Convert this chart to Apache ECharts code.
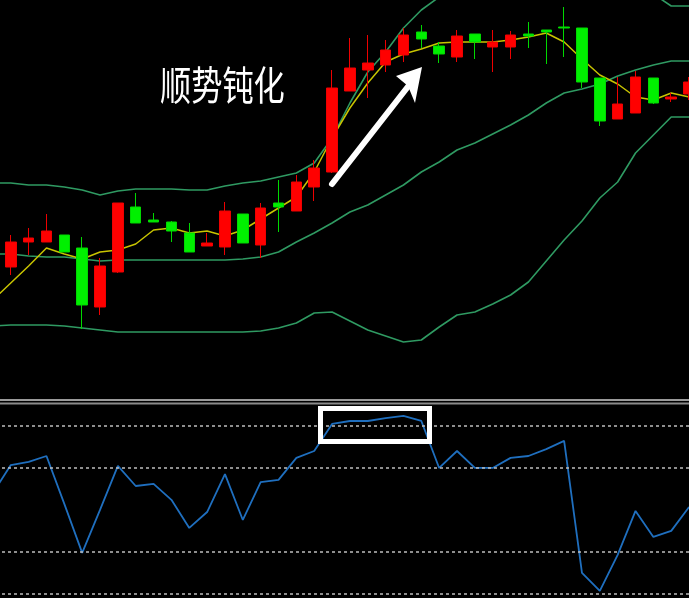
<!DOCTYPE html>
<html>
<head>
<meta charset="utf-8">
<script src="https://cdn.jsdelivr.net/npm/echarts@6/dist/echarts.min.js"></script>
<style>
html,body{margin:0;padding:0;background:#000;overflow:hidden;width:689px;height:598px;}
#main{width:714px;height:598px;margin-left:-16px;}
</style>
</head>
<body>
<div id="main"></div>
<script>
const categories = ['1','2','3','4','5','6','7','8','9','10','11','12','13','14','15','16','17','18','19','20',
  '21','22','23','24','25','26','27','28','29','30','31','32','33','34','35','36','37','38','39','40'];
const opens  = [74,133,158,158,165,152,93,128,193,180,178,167,154,153,186,155,197,189,213,228,309,330,335,345,368,354,343,366,353,353,366,370,373,372,322,281,287,322,301,306];
const closes = [122,158,162,169,148,95,134,197,177,178,169,148,157,189,157,192,193,218,232,312,332,337,350,365,361,346,364,358,358,365,364,368,372,318,279,296,323,297,303,318];
const lows   = [68,125,145,158,148,71,85,127,177,178,158,148,154,145,157,142,168,189,199,227,309,302,328,338,352,337,338,341,328,341,352,336,343,312,274,281,287,296,298,300];
const highs  = [128,165,172,186,165,163,142,197,207,187,179,177,167,198,186,197,220,225,240,330,362,365,360,372,375,358,370,366,370,369,378,370,393,372,322,323,329,322,307,323];
const bollUpper = [217,217,215,215,213,210,205,209,211,211,211,210,210,214,217,219,223,227,237,262,297,328,348,372,390,403,420,432,440,446,450,453,455,452,444,432,418,406,394,394];
const bollMid   = [146,146,144,143,143,141,139,140,140,140,140,140,140,140,141,143,148,158,167,177,188,195,205,215,228,238,250,257,266,275,285,297,307,311,316,324,330,335,339,339];
const bollLower = [74,75,75,75,74,72,70,68,68,68,68,68,68,68,68,69,72,77,87,88,79,70,64,58,60,73,85,88,96,105,118,139,160,179,202,218,247,265,283,283];
const ma5 = [100,117,134,152,146,141,148,150,156,170,172,167,169,164,170,181,192,203,228,262,292,317,338,346,351,357,358,358,358,360,363,367,358,341,325,316,303,300,307,303];
const rsi = [48.1,61.4,62.9,65.7,42.9,19.5,40.0,61.0,51.4,52.4,44.8,31.4,39.0,57.1,35.2,53.3,54.3,64.8,68.1,81.0,82.4,82.4,83.8,84.8,82.4,60.0,68.1,60.0,60.0,64.8,65.7,69.0,72.9,10.0,1.4,18.6,39.5,27.1,30.0,41.4];
const rsiLevels = [80, 60, 20, 0];
const annotationText = '顺势钝化';

const candles = opens.map((o, i) => [o, closes[i], lows[i], highs[i]]);

const OFF = 16; // canvas is shifted left by this many pixels
const chart = echarts.init(document.getElementById('main'), null, {renderer: 'canvas'});
const bandColor = '#2f9a62';
const lineOpt = (data, color, width, xi, yi) => ({
  type: 'line', data: data, xAxisIndex: xi, yAxisIndex: yi, symbol: 'none', silent: true,
  lineStyle: {color: color, width: width}, z: 3
});
const option = {
  backgroundColor: '#000',
  animation: false,
  grid: [
    {left: 0, right: 0, top: 0, height: 398},
    {left: 0, right: 0, top: 404, height: 194}
  ],
  xAxis: [
    {type: 'category', data: categories, gridIndex: 0, boundaryGap: true,
     axisLine: {show: false}, axisTick: {show: false}, axisLabel: {show: false}, splitLine: {show: false}},
    {type: 'category', data: categories, gridIndex: 1, boundaryGap: true,
     axisLine: {show: false}, axisTick: {show: false}, axisLabel: {show: false}, splitLine: {show: false}}
  ],
  yAxis: [
    {type: 'value', gridIndex: 0, min: 2, max: 400, axisLine: {show: false}, axisTick: {show: false},
     axisLabel: {show: false}, splitLine: {show: false}},
    {type: 'value', gridIndex: 1, min: -2, max: 90.5, axisLine: {show: false}, axisTick: {show: false},
     axisLabel: {show: false}, splitLine: {show: false}}
  ],
  series: [
    lineOpt(bollUpper, bandColor, 1.6, 0, 0),
    lineOpt(bollMid, bandColor, 1.6, 0, 0),
    lineOpt(bollLower, bandColor, 1.6, 0, 0),
    {
      type: 'candlestick', data: candles, xAxisIndex: 0, yAxisIndex: 0, barWidth: 11, silent: true, z: 4,
      itemStyle: {color: '#ff0000', color0: '#00f000', borderColor: '#ee0000', borderColor0: '#00d800', borderWidth: 1}
    },
    lineOpt(ma5, '#c8c400', 1.5, 0, 0),
    {
      type: 'line', data: rsi, xAxisIndex: 1, yAxisIndex: 1, symbol: 'none', silent: true,
      lineStyle: {color: '#1f6fbf', width: 1.8}, z: 3,
      markLine: {
        silent: true, symbol: 'none', label: {show: false},
        lineStyle: {color: '#bdbdbd', type: [3, 3], width: 1.5},
        data: rsiLevels.map(v => ({yAxis: v}))
      }
    }
  ],
  graphic: [
    {type: 'rect', shape: {x: 0, y: 399, width: 714, height: 2}, style: {fill: '#9a9a9a'}, silent: true},
    {type: 'rect', shape: {x: 0, y: 402.5, width: 714, height: 2}, style: {fill: '#8a8a8a'}, silent: true},
    {type: 'text', x: 160 + OFF, y: 65, scaleX: 0.78, silent: true, z: 10,
     style: {text: annotationText, fill: '#ffffff', font: '40px "Noto Sans CJK SC"', textVerticalAlign: 'top'}},
    {type: 'line', shape: {x1: 332 + OFF, y1: 184, x2: 410 + OFF, y2: 84}, style: {stroke: '#ffffff', lineWidth: 6, lineCap: 'round'}, silent: true, z: 10},
    {type: 'polygon', shape: {points: [[422 + OFF, 67], [396 + OFF, 76], [408 + OFF, 86], [415 + OFF, 103]]}, style: {fill: '#ffffff'}, silent: true, z: 10},
    {type: 'rect', shape: {x: 320.5 + OFF, y: 408.5, width: 109, height: 33}, style: {stroke: '#ffffff', lineWidth: 5, fill: 'none'}, silent: true, z: 10}
  ]
};
chart.setOption(option);
</script>
</body>
</html>
